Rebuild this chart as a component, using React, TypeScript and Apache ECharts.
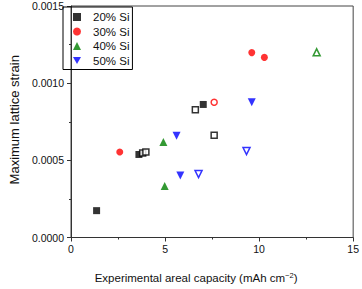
import React, { useEffect, useRef } from "react";
import * as echarts from "echarts";

const seriesNames = ["20% Si", "30% Si", "40% Si", "50% Si"];
const colors = ["#000000", "#ff0000", "#008000", "#0000ff"];

// filled markers [capacity, strain]
const si20Filled = [[1.36, 0.000174], [3.61, 0.000538], [7.03, 0.000862]];
const si30Filled = [[2.59, 0.000554], [9.61, 0.001198], [10.28, 0.001167]];
const si40Filled = [[4.91, 0.000619], [4.98, 0.000333]];
const si50Filled = [[5.61, 0.00066], [5.81, 0.000401], [9.61, 0.000876]];

// open markers
const si20Open = [[3.81, 0.000548], [3.98, 0.000554], [6.61, 0.000828], [7.61, 0.000663]];
const si30Open = [[7.61, 0.000876]];
const si40Open = [[13.06, 0.0012]];
const si50Open = [[6.78, 0.000411], [9.33, 0.00056]];

const xTicks = [0, 5, 10, 15];
const yTicks = [0, 0.0005, 0.001, 0.0015];

const downTri = "path://M0,0 L10,0 L5,9 Z";
const symbols = ["rect", "circle", "triangle", downTri];
const sizes = [7, 7, 8, 8];
const FONT = "Liberation Sans, Arial, sans-serif";

export default function App() {
  const ref = useRef<HTMLDivElement>(null);
  useEffect(() => {
    const chart = echarts.init(ref.current!, null, { renderer: "svg" });
    const filled = [si20Filled, si30Filled, si40Filled, si50Filled];
    const open = [si20Open, si30Open, si40Open, si50Open];
    const series: any[] = [];
    filled.forEach((d, i) => {
      series.push({
        name: seriesNames[i],
        type: "scatter",
        data: d,
        symbol: symbols[i],
        symbolSize: sizes[i],
        itemStyle: { color: colors[i] },
      });
    });
    open.forEach((d, i) => {
      series.push({
        name: seriesNames[i] + " open",
        type: "scatter",
        data: d,
        symbol: symbols[i],
        symbolSize: sizes[i] - 1,
        itemStyle: { color: "#ffffff", borderColor: colors[i], borderWidth: 1.5 },
      });
    });
    chart.setOption({
      animation: false,
      textStyle: { fontFamily: FONT },
      grid: {
        left: 54.5,
        right: 7.5,
        top: 6,
        bottom: 42.3,
        show: true,
        borderColor: "#444",
        borderWidth: 1,
      },
      legend: {
        data: seriesNames.map((n, i) => ({ name: n, icon: symbols[i] })),
        orient: "vertical",
        left: 63,
        top: 7,
        padding: [3, 3, 2, 10],
        itemWidth: 8,
        itemHeight: 8,
        itemGap: 0.5,
        borderColor: "#000",
        borderWidth: 1,
        textStyle: { fontSize: 11.5, color: "#111", lineHeight: 14, padding: [0, 0, 0, 7] },
      },
      xAxis: {
        type: "value",
        min: 0,
        max: 15,
        interval: 5,
        name: "{a|Experimental areal capacity (mAh cm}{s|−2}{a|)}",
        nameLocation: "middle",
        nameGap: 33.5,
        nameTextStyle: {
          padding: [0, 32, 0, 0],
          rich: {
            a: { fontSize: 11.5, color: "#111", fontFamily: FONT },
            s: { fontSize: 7.5, color: "#111", verticalAlign: "top", padding: [0, 0, 6, 0], fontFamily: FONT },
          },
        },
        axisLine: { lineStyle: { color: "#333" } },
        axisTick: { show: true, inside: false, length: 4, lineStyle: { color: "#333" } },
        minorTick: { show: true, splitNumber: 2, length: 2, lineStyle: { color: "#333" } },
        axisLabel: {
          fontSize: 10.5,
          color: "#111",
          margin: 6,
          formatter: (v: number) => (xTicks.includes(v) ? String(v) : ""),
        },
        splitLine: { show: false },
      },
      yAxis: {
        type: "value",
        min: 0,
        max: 0.0015,
        interval: 0.0005,
        name: "Maximum lattice strain",
        nameLocation: "middle",
        nameGap: 44,
        nameTextStyle: { fontSize: 13, color: "#111", padding: [0, 0, 0, 4] },
        axisLine: { show: true, lineStyle: { color: "#333" } },
        axisTick: { show: true, inside: false, length: 4, lineStyle: { color: "#333" } },
        minorTick: { show: true, splitNumber: 2, length: 2, lineStyle: { color: "#333" } },
        axisLabel: {
          fontSize: 10.5,
          color: "#111",
          margin: 7,
          formatter: (v: number) => {
            const t = yTicks.find((y) => Math.abs(y - v) < 1e-9);
            return t === undefined ? "" : t.toFixed(4);
          },
        },
        splitLine: { show: false },
      },
      series,
    });
    return () => chart.dispose();
  }, []);
  return <div ref={ref} style={{ width: 362, height: 289, position: "absolute", left: 0, top: 0 }} />;
}
